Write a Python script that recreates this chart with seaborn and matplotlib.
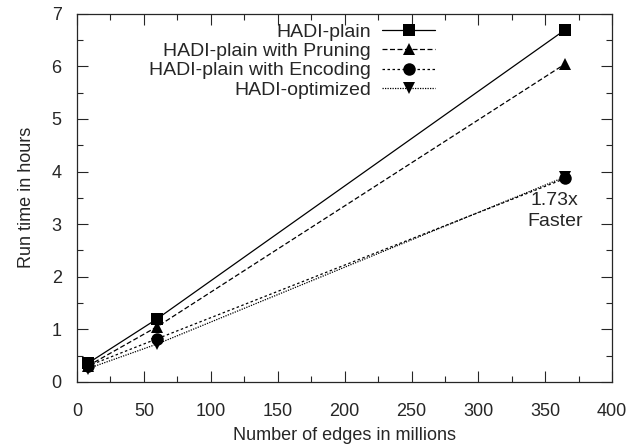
import matplotlib
matplotlib.use("Agg")
import matplotlib.pyplot as plt
import seaborn as sns
import pandas as pd
from matplotlib.ticker import MultipleLocator

# Data
edges = [8, 60, 365]
plain = [0.35, 1.2, 6.7]
pruning = [0.3, 1.05, 6.05]
encoding = [0.3, 0.82, 3.87]
optimized = [0.25, 0.72, 3.9]

series_names = ["HADI-plain", "HADI-plain with Pruning",
                "HADI-plain with Encoding", "HADI-optimized"]
series_values = [plain, pruning, encoding, optimized]
markers = ["s", "^", "o", "v"]
dashes = [None, (4, 2), (2, 2), (1, 1)]

sns.set_style("ticks")
plt.rcParams["font.family"] = ["Liberation Sans", "DejaVu Sans"]

fig, ax = plt.subplots(figsize=(6.26, 4.45), dpi=100)
fig.subplots_adjust(left=0.123, right=0.978, top=0.969, bottom=0.142)

for name, vals, mk, ds in zip(series_names, series_values, markers, dashes):
    df = pd.DataFrame({"edges": edges, "hours": vals})
    sns.lineplot(data=df, x="edges", y="hours", ax=ax, color="black",
                 marker=mk, markersize=9, markeredgewidth=0,
                 linewidth=0.9, label=name)
    if ds is not None:
        ax.lines[-1].set_dashes(ds)

ax.set_xlim(0, 400)
ax.set_ylim(0, 7)
ax.xaxis.set_major_locator(MultipleLocator(50))
ax.xaxis.set_minor_locator(MultipleLocator(25))
ax.yaxis.set_major_locator(MultipleLocator(1))
ax.yaxis.set_minor_locator(MultipleLocator(0.5))
ax.tick_params(which="both", direction="in", top=True, right=True,
               labelsize=13, width=0.8)
ax.tick_params(which="major", length=8)
ax.tick_params(axis="x", which="major", pad=15)
ax.tick_params(axis="y", which="major", pad=11)
ax.tick_params(which="minor", length=4)
for s in ax.spines.values():
    s.set_linewidth(0.9)

ax.set_xlabel("Number of edges in millions", fontsize=13, labelpad=5)
ax.set_ylabel("Run time in hours", fontsize=13, labelpad=12)

ax.text(357, 3.25, "1.73x\nFaster", ha="center", va="center", fontsize=14,
        linespacing=1.25)

ax.legend(loc="upper right", bbox_to_anchor=(0.687, 1.0), frameon=False,
          markerfirst=False, fontsize=14, handlelength=2.7,
          labelspacing=0.08, handletextpad=0.6, borderaxespad=0.1)

fig.savefig("out.png", dpi=100)
